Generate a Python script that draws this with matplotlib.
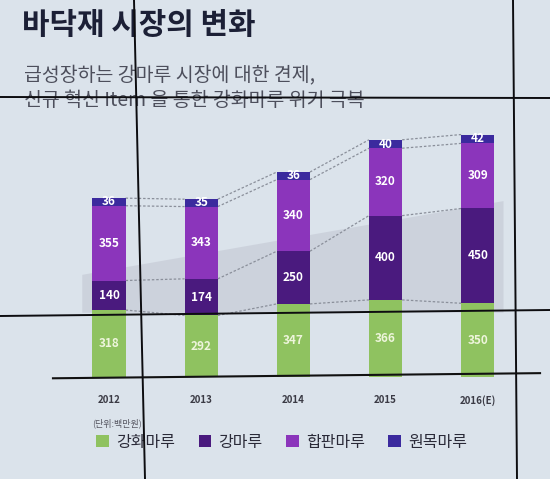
import matplotlib.pyplot as plt
from matplotlib.patches import Patch, Polygon
from matplotlib.lines import Line2D

plt.rcParams['font.family'] = ['Noto Sans CJK KR', 'DejaVu Sans']

# 단위: 백만원
years = ['2012', '2013', '2014', '2015', '2016(E)']
gangwha = [318, 292, 347, 366, 350]   # 강화마루
gang = [140, 174, 250, 400, 450]      # 강마루
hapan = [355, 343, 340, 320, 309]     # 합판마루
wonmok = [36, 35, 36, 40, 42]         # 원목마루

series = [('강화마루', gangwha, '#8fc260', '#eef5dc'),
          ('강마루', gang, '#4a1a7e', 'white'),
          ('합판마루', hapan, '#8b35bb', 'white'),
          ('원목마루', wonmok, '#3b2a9e', 'white')]

bg = '#dbe3eb'
fig = plt.figure(figsize=(5.5, 4.79), dpi=100, facecolor=bg)
W, H = 550, 479

# 제목
fig.text(22 / W, 1 - 25 / H, '바닥재 시장의 변화', fontsize=21.5, fontweight='bold',
         color='#1c2036', va='center', ha='left')
fig.text(24 / W, 1 - 76 / H, '급성장하는 강마루 시장에 대한 견제,', fontsize=14,
         color='#4d4f5c', va='center', ha='left')
fig.text(24 / W, 1 - 100 / H, '신규 혁신 Item 을 통한 강화마루 위기 극복', fontsize=14,
         color='#4d4f5c', va='center', ha='left')

ax = fig.add_axes([50 / W, 1 - 377 / H, 495 / W, 257 / H])
ax.set_xlim(-0.64, 4.73)
ax.set_ylim(0, 1220)
ax.axis('off')

x = list(range(len(years)))
w = 0.36

# 배경 음영
band = Polygon([(-0.29, 305), (4.28, 305), (4.28, 835), (-0.29, 485)],
               closed=True, facecolor='#c8cdd8', alpha=0.75, edgecolor='none', zorder=0)
ax.add_patch(band)

bottoms = [0] * len(years)
levels = []
for name, vals, color, tc in series:
    ax.bar(x, vals, width=w, bottom=bottoms, color=color, zorder=3, label=name)
    for i, v in enumerate(vals):
        ax.text(x[i], bottoms[i] + v / 2, str(v), ha='center', va='center',
                fontsize=8.5, fontweight='bold', color=tc, zorder=4)
    bottoms = [b + v for b, v in zip(bottoms, vals)]
    levels.append(list(bottoms))

# 점선 연결
for lev in levels:
    for i in range(len(x) - 1):
        ax.plot([x[i] + w / 2, x[i + 1] - w / 2], [lev[i], lev[i + 1]],
                ls=(0, (2, 1.5)), color='#8a8f9a', lw=0.9, zorder=2)

for i, yr in enumerate(years):
    ax.text(x[i], -110, yr, ha='center', va='center', fontsize=7, color='#3a3a44',
            fontweight='semibold', clip_on=False)

# 기준선
ax.plot([0.006, 0.99], [-0.005, 0.015], transform=ax.transAxes, color='#111111',
        lw=1.5, clip_on=False, zorder=5)

fig.text(92 / W, 1 - 423 / H, '(단위:백만원)', fontsize=6.5, color='#555560',
         va='center', ha='left')

handles = [Patch(facecolor=c, edgecolor='none') for _, _, c, _ in series]
fig.legend(handles, [s[0] for s in series], ncol=4, loc='center left',
           bbox_to_anchor=(82 / W, 1 - 442 / H), frameon=False, fontsize=11.5,
           handlelength=0.8, handleheight=0.8, handletextpad=0.45,
           columnspacing=1.45, labelcolor='#2a2a38')

# 화면 베젤 선
for (x0, y0), (x1, y1) in [((0, 97), (550, 98)), ((0, 316), (550, 310)),
                           ((134, 0), (145, 479)), ((513, 0), (517, 479))]:
    fig.add_artist(Line2D([x0 / W, x1 / W], [1 - y0 / H, 1 - y1 / H],
                          color='#0d0d10', lw=1.4, zorder=10))

fig.savefig('out.png', dpi=100, facecolor=bg)
